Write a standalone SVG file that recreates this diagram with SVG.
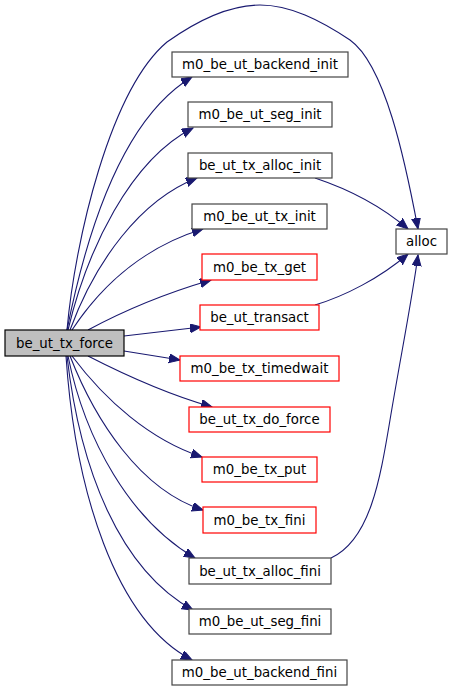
<svg xmlns="http://www.w3.org/2000/svg" width="455" height="691" viewBox="0 0 455 691">
<defs>
<marker id="ah" markerUnits="userSpaceOnUse" markerWidth="12" markerHeight="10" refX="11" refY="4.5" orient="auto">
<path d="M0,0 L11,4.5 L0,9 z" fill="#191970" stroke="#191970"/>
</marker>
<style>
.n rect{fill:#fff;stroke:#444;stroke-width:1.2}
.r rect{fill:#fff;stroke:#ff0000;stroke-width:1.2}
text{font-family:"DejaVu Sans",sans-serif;font-size:13.33px;text-anchor:middle;fill:#000}
.e path{fill:none;stroke:#191970;stroke-width:1.1;marker-end:url(#ah)}
</style>
</defs>
<rect width="455" height="691" fill="#fff"/>
<g class="e" id="edges">
<path d="M67,330 C75,240 110,90 167,42 C205,15 235,5 260,5 C290,5 320,20 350,40 C385,65 405,160 418,229"/>
<path d="M67,330 C85,240 120,120 192,77"/>
<path d="M68,330 C87,250 130,160 193,128"/>
<path d="M70,330 C95,262 140,200 197,178"/>
<path d="M72,330 C105,280 150,245 203,229"/>
<path d="M88,330 C125,310 170,292 211,280"/>
<path d="M124,336 L201,327"/>
<path d="M124,351 L180,360"/>
<path d="M88,356 C125,375 170,395 212,407"/>
<path d="M72,356 C105,400 150,440 202,457"/>
<path d="M70,356 C95,420 140,490 203,510"/>
<path d="M68,356 C85,440 130,520 195,558"/>
<path d="M67,356 C80,470 120,570 193,610"/>
<path d="M66,356 C75,490 115,620 192,660"/>
<path d="M315,178 C345,188 380,205 408,229"/>
<path d="M315,305 C345,296 380,278 408,254"/>
<path d="M331,558 C370,540 380,480 390,420 C400,360 412,300 418,255"/>
</g>
<g id="be_ut_tx_force"><rect x="5" y="330" width="119" height="26" fill="#bfbfbf" stroke="#000" stroke-width="1.2"/><text x="64.5" y="347.5">be_ut_tx_force</text></g>
<g id="m0_be_ut_backend_init" class="n"><rect x="172" y="52" width="176" height="25"/><text x="260" y="69">m0_be_ut_backend_init</text></g>
<g id="m0_be_ut_seg_init" class="n"><rect x="188" y="102" width="144" height="25"/><text x="260" y="119">m0_be_ut_seg_init</text></g>
<g id="be_ut_tx_alloc_init" class="n"><rect x="188" y="153" width="144" height="25"/><text x="260" y="170">be_ut_tx_alloc_init</text></g>
<g id="m0_be_ut_tx_init" class="n"><rect x="192" y="204" width="135" height="25"/><text x="259.5" y="221">m0_be_ut_tx_init</text></g>
<g id="alloc" class="n"><rect x="396" y="229" width="51" height="25"/><text x="421.5" y="246">alloc</text></g>
<g id="m0_be_tx_get" class="r"><rect x="202" y="254" width="115" height="26"/><text x="259.5" y="271.5">m0_be_tx_get</text></g>
<g id="be_ut_transact" class="r"><rect x="200" y="305" width="119" height="25"/><text x="259.5" y="322">be_ut_transact</text></g>
<g id="m0_be_tx_timedwait" class="r"><rect x="180" y="356" width="159" height="25"/><text x="259.5" y="373">m0_be_tx_timedwait</text></g>
<g id="be_ut_tx_do_force" class="r"><rect x="189" y="407" width="141" height="25"/><text x="259.5" y="424">be_ut_tx_do_force</text></g>
<g id="m0_be_tx_put" class="r"><rect x="202" y="457" width="115" height="25"/><text x="259.5" y="474">m0_be_tx_put</text></g>
<g id="m0_be_tx_fini" class="r"><rect x="203" y="507" width="113" height="26"/><text x="259.5" y="524.5">m0_be_tx_fini</text></g>
<g id="be_ut_tx_alloc_fini" class="n"><rect x="189" y="558" width="142" height="26"/><text x="260" y="575.5">be_ut_tx_alloc_fini</text></g>
<g id="m0_be_ut_seg_fini" class="n"><rect x="189" y="609" width="142" height="25"/><text x="260" y="626">m0_be_ut_seg_fini</text></g>
<g id="m0_be_ut_backend_fini" class="n"><rect x="172" y="660" width="175" height="25"/><text x="259.5" y="677">m0_be_ut_backend_fini</text></g>
</svg>
